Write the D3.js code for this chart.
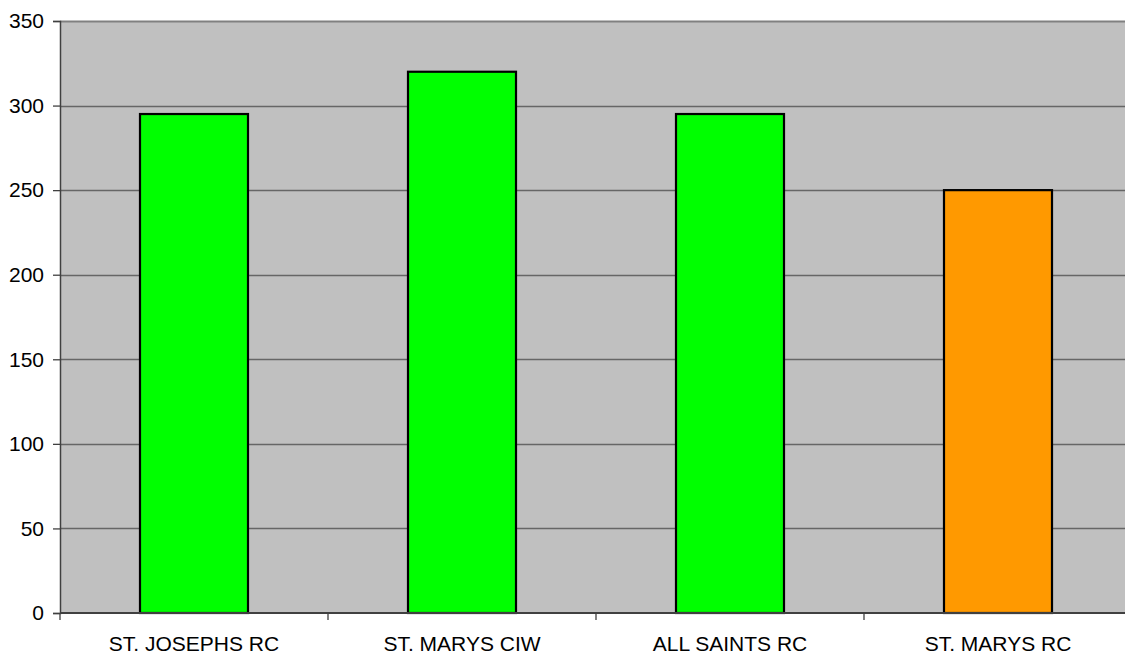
<!DOCTYPE html>
<html>
<head>
<meta charset="utf-8">
<script src="https://cdn.jsdelivr.net/npm/d3@7"></script>
<style>
  html, body { margin: 0; padding: 0; background: #ffffff; }
  svg { display: block; }
  text { font-family: "Liberation Sans", Arial, sans-serif; fill: #000; }
</style>
</head>
<body>
<svg id="chart" width="1125" height="655"></svg>
<script>
// School totals
const schools = ["ST. JOSEPHS RC", "ST. MARYS CIW", "ALL SAINTS RC", "ST. MARYS RC"];
const totals = [295, 320, 295, 250];
const barColors = ["#00ff00", "#00ff00", "#00ff00", "#ff9900"];
const yTicks = [0, 50, 100, 150, 200, 250, 300, 350];

const svg = d3.select("#chart");
const margin = { left: 60, top: 21, right: -7, bottom: 42 };
const W = 1125, H = 655;
const plotW = W - margin.left - margin.right;
const plotH = H - margin.top - margin.bottom;

const x = d3.scaleBand().domain(schools).range([0, plotW]).paddingInner(0.597).paddingOuter(0.2985);
const xTicksScale = d3.scaleBand().domain(schools).range([0, plotW]);
const y = d3.scaleLinear().domain([0, 350]).range([plotH, 0]);

const g = svg.append("g").attr("transform", `translate(${margin.left},${margin.top})`);

// plot background
g.append("rect")
  .attr("x", 0).attr("y", 0).attr("width", plotW).attr("height", plotH)
  .attr("fill", "#c0c0c0");

// horizontal gridlines
g.selectAll("line.grid").data(yTicks.filter(t => t > 0 && t < 350)).join("line")
  .attr("class", "grid")
  .attr("x1", 0).attr("x2", plotW)
  .attr("y1", d => Math.round(y(d)) + 0.5).attr("y2", d => Math.round(y(d)) + 0.5)
  .attr("stroke", "#666666").attr("stroke-width", 1.5);

// top border
g.append("line")
  .attr("x1", 0).attr("x2", plotW).attr("y1", 0.5).attr("y2", 0.5)
  .attr("stroke", "#808080").attr("stroke-width", 2);

// bars
g.selectAll("rect.bar").data(totals).join("rect")
  .attr("class", "bar")
  .attr("x", (d, i) => x(schools[i]))
  .attr("y", d => y(d))
  .attr("width", x.bandwidth())
  .attr("height", d => plotH - y(d))
  .attr("fill", (d, i) => barColors[i])
  .attr("stroke", "#000").attr("stroke-width", 2.2);

// y axis
const yAxis = g.append("g")
  .call(d3.axisLeft(y).tickValues(yTicks).tickSize(7).tickPadding(9));
yAxis.select(".domain").attr("stroke", "#404040").attr("stroke-width", 1.5);
yAxis.selectAll(".tick line").attr("stroke", "#404040").attr("stroke-width", 1.3);
yAxis.selectAll(".tick text").style("font-size", "21px");

// x axis
const xAxisG = g.append("g").attr("transform", `translate(0,${plotH})`);
xAxisG.append("line")
  .attr("x1", 0).attr("x2", plotW).attr("y1", 0).attr("y2", 0)
  .attr("stroke", "#404040").attr("stroke-width", 2);
const tickPositions = schools.map(s => xTicksScale(s)).concat([plotW]);
xAxisG.selectAll("line.xt").data(tickPositions).join("line")
  .attr("class", "xt")
  .attr("x1", d => d).attr("x2", d => d).attr("y1", 0).attr("y2", 7)
  .attr("stroke", "#404040").attr("stroke-width", 1.3);
xAxisG.selectAll("text.xl").data(schools).join("text")
  .attr("class", "xl")
  .attr("x", d => xTicksScale(d) + xTicksScale.bandwidth() / 2)
  .attr("y", 38)
  .attr("text-anchor", "middle")
  .style("font-size", "21px")
  .text(d => d);
</script>
</body>
</html>
